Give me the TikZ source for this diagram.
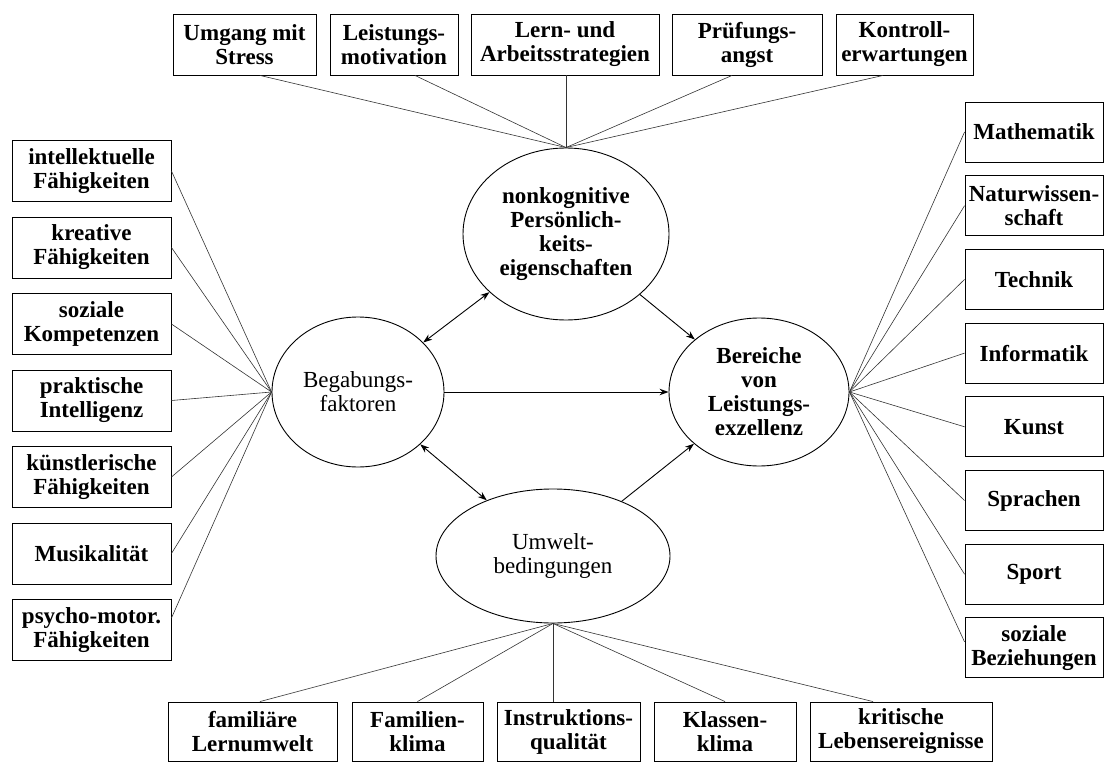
\documentclass[tikz,border=0pt]{standalone}
\usepackage{fontspec}
\setmainfont{Liberation Serif}
\usetikzlibrary{arrows.meta, positioning, shapes.geometric}

\newcommand\diagfont{\fontsize{23}{24}\selectfont}

\begin{document}
\begin{tikzpicture}[
    x=1pt, y=-1pt,
    >={Stealth[length=9pt, width=6.5pt]},
    on grid,
    factor/.style={draw, line width=0.9pt, align=center, inner sep=1pt,
        minimum height=61pt, font=\diagfont\bfseries},
    sidebox/.style={factor, minimum width=159pt},
    domainbox/.style={factor, minimum width=138pt, minimum height=60pt},
    hub/.style={draw, ellipse, line width=0.9pt, align=center, inner sep=0pt,
        font=\diagfont},
    fan/.style={line width=0.6pt, black!80},
    link/.style={line width=0.9pt},
]

    \useasboundingbox (0,0) rectangle (1105,762);

    % the four ellipses
    \node[hub, font=\diagfont\bfseries, minimum width=206pt, minimum height=172pt]
        (nk) at (566,234) {nonkognitive\\Persönlich-\\keits-\\eigenschaften};
    \node[hub, minimum width=172pt, minimum height=150pt]
        (bf) at (358,392) {Begabungs-\\faktoren};
    \node[hub, font=\diagfont\bfseries, minimum width=180pt, minimum height=148pt]
        (bl) at (759,392) {Bereiche\\von\\Leistungs-\\exzellenz};
    \node[hub, minimum width=234pt, minimum height=134pt]
        (ub) at (553,556) {Umwelt-\\bedingungen};

    % top row
    \node[factor, minimum width=143pt] (stress)   at (244.5,44.5) {Umgang mit\\Stress};
    \node[factor, minimum width=128pt] (motiv)    at (394,44.5)   {Leistungs-\\motivation};
    \node[factor, minimum width=188pt] (lern)     at (565,44.5)   {Lern- und\\Arbeitsstrategien};
    \node[factor, minimum width=150pt] (angst)    at (747,44.5)   {Prüfungs-\\angst};
    \node[factor, minimum width=137pt] (kontroll) at (904.5,44.5) {Kontroll-\\erwartungen};

    % left column
    \node[sidebox]                         (intel)  at (91.5,171) {intellektuelle\\Fähigkeiten};
    \node[sidebox, below=76.5pt of intel]  (krea)   {kreative\\Fähigkeiten};
    \node[sidebox, below=76.5pt of krea]   (sozkom) {soziale\\Kompetenzen};
    \node[sidebox, below=76.5pt of sozkom] (prakt)  {praktische\\Intelligenz};
    \node[sidebox, below=76.5pt of prakt]  (kuenst) {künstlerische\\Fähigkeiten};
    \node[sidebox, below=76.5pt of kuenst] (musik)  {Musikalität};
    \node[sidebox, below=76.5pt of musik]  (psycho) {psycho-motor.\\Fähigkeiten};

    % right column
    \node[domainbox]                        (mathe)  at (1034,132) {Mathematik};
    \node[domainbox, below=73.7pt of mathe]  (natur)  {Naturwissen-\\schaft};
    \node[domainbox, below=73.7pt of natur]  (technik) {Technik};
    \node[domainbox, below=73.7pt of technik] (info)  {Informatik};
    \node[domainbox, below=73.7pt of info]   (kunst)  {Kunst};
    \node[domainbox, below=73.7pt of kunst]  (sprache) {Sprachen};
    \node[domainbox, below=73.7pt of sprache] (sport) {Sport};
    \node[domainbox, below=73.7pt of sport]  (sozbez) {soziale\\Beziehungen};

    % bottom row
    \node[factor, minimum width=169pt, minimum height=59pt] (famlern) at (252.5,731.5) {familiäre\\Lernumwelt};
    \node[factor, minimum width=131pt, minimum height=59pt] (famklima) at (417.5,731.5) {Familien-\\klima};
    \node[factor, minimum width=143pt, minimum height=59pt] (instr) at (568.5,731.5) {Instruktions-\\qualität};
    \node[factor, minimum width=142pt, minimum height=59pt] (klasse) at (725,731.5) {Klassen-\\klima};
    \node[factor, minimum width=182pt, minimum height=59pt] (krit) at (901,731.5) {kritische\\Lebensereignisse};

    \path[fan]
        ([xshift=15.5pt]stress.south) edge (nk.north)
        ([xshift=21pt]motiv.south)    edge (nk.north)
        (nk.north |- lern.south)      edge (nk.north)
        ([xshift=-15pt]angst.south)   edge (nk.north)
        ([xshift=-21.5pt]kontroll.south) edge (nk.north)
    ;
    \path[fan]
        (intel.east)  edge (bf.west)
        (krea.east)   edge (bf.west)
        (sozkom.east) edge (bf.west)
        (prakt.east)  edge (bf.west)
        (kuenst.east) edge (bf.west)
        (musik.east)  edge (bf.west)
        ([yshift=12pt]psycho.east) edge (bf.west)
    ;
    \path[fan]
        (bl.east) edge (mathe.west)
        (bl.east) edge (natur.west)
        (bl.east) edge (technik.west)
        (bl.east) edge (info.west)
        (bl.east) edge (kunst.west)
        (bl.east) edge (sprache.west)
        (bl.east) edge (sport.west)
        (bl.east) edge ([yshift=6pt]sozbez.west)
    ;
    \path[fan]
        (ub.south) edge ([xshift=7.5pt]famlern.north)
        (ub.south) edge (famklima.north)
        (ub.south) edge (ub.south |- instr.north)
        (ub.south) edge (klasse.north)
        (ub.south) edge ([xshift=-28pt]krit.north)
    ;

    \path[link]
        (nk) edge [<->] (bf)
        (nk) edge [->]  (bl)
        (bf) edge [->]  (bl)
        (bf) edge [<->] (ub)
        (ub) edge [->]  (bl)
    ;
\end{tikzpicture}
\end{document}
